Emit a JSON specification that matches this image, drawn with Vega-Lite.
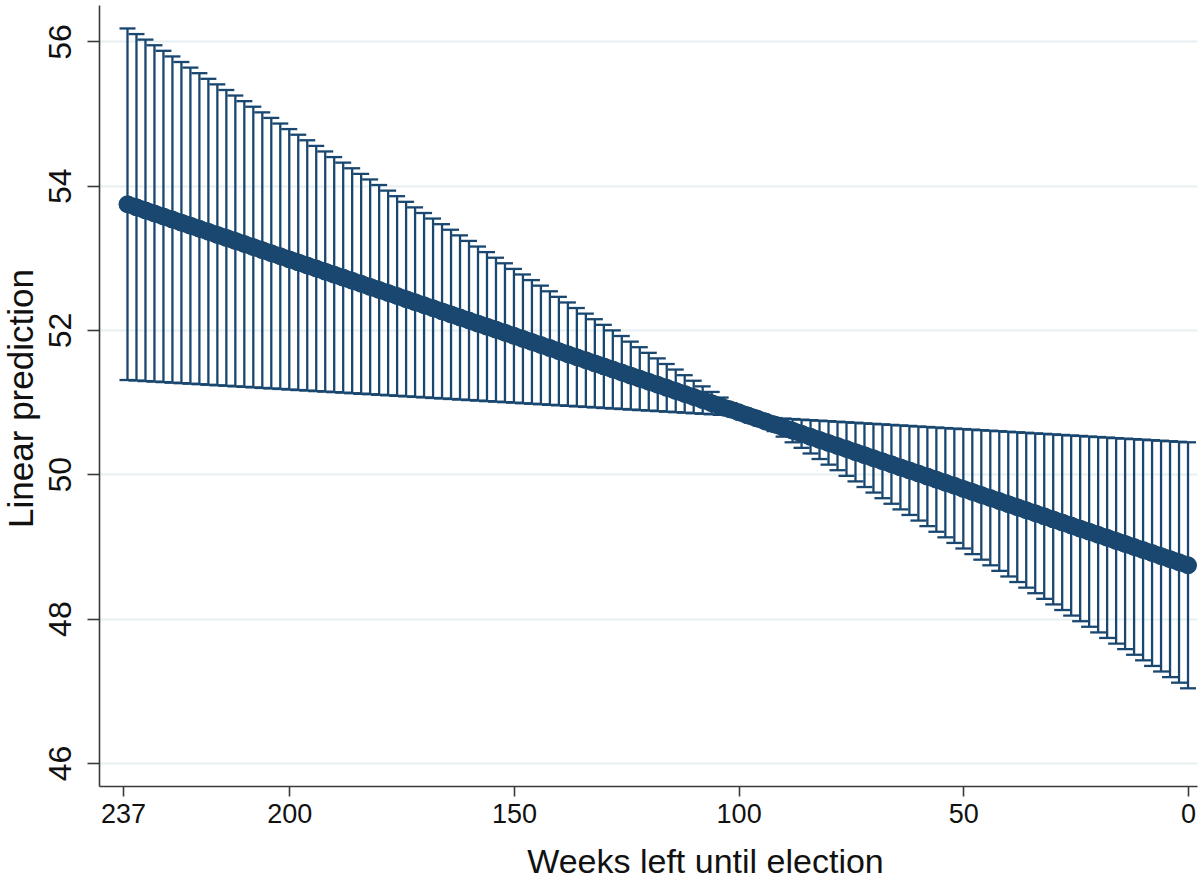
{
  "$schema": "https://vega.github.io/schema/vega-lite/v6.json",
  "width": 1098,
  "height": 781,
  "autosize": {"type": "none"},
  "padding": {"left": 99, "top": 5, "right": 6, "bottom": 96},
  "background": "white",
  "config": {
    "view": {"stroke": null},
    "font": "Liberation Sans",
    "axisX": {
      "grid": false,
      "domainColor": "#3a3a3a",
      "domainWidth": 1.6,
      "tickColor": "#3a3a3a",
      "tickWidth": 1.6,
      "tickSize": 10,
      "labelFontSize": 27,
      "labelColor": "#111111",
      "labelPadding": 5,
      "labelBaseline": "top",
      "labelFlush": false,
      "labelOverlap": false,
      "titleFontSize": 34,
      "titleFontWeight": "normal",
      "titleColor": "#111111",
      "titleX": 606,
      "titleY": 86,
      "titleAlign": "center",
      "titleBaseline": "alphabetic"
    },
    "axisY": {
      "grid": true,
      "gridColor": "#e6eff2",
      "gridWidth": 2,
      "domainColor": "#3a3a3a",
      "domainWidth": 1.6,
      "tickColor": "#3a3a3a",
      "tickWidth": 1.6,
      "tickSize": 12,
      "labelFontSize": 32,
      "labelColor": "#111111",
      "labelAngle": 270,
      "labelAlign": "center",
      "labelBaseline": "alphabetic",
      "labelPadding": 17,
      "labelOverlap": false,
      "labelFlush": false,
      "titleFontSize": 35,
      "titleFontWeight": "normal",
      "titleColor": "#111111",
      "titleAngle": 270,
      "titleAlign": "center",
      "titleBaseline": "alphabetic",
      "titleX": -67,
      "titleY": 393
    }
  },
  "data": {
    "values": [
      {"w": 0, "p": 48.739, "lo": 47.034, "hi": 50.444},
      {"w": 2, "p": 48.781, "lo": 47.112, "hi": 50.451},
      {"w": 4, "p": 48.824, "lo": 47.189, "hi": 50.459},
      {"w": 6, "p": 48.866, "lo": 47.267, "hi": 50.466},
      {"w": 8, "p": 48.909, "lo": 47.344, "hi": 50.473},
      {"w": 10, "p": 48.951, "lo": 47.422, "hi": 50.481},
      {"w": 12, "p": 48.993, "lo": 47.499, "hi": 50.488},
      {"w": 14, "p": 49.036, "lo": 47.577, "hi": 50.495},
      {"w": 16, "p": 49.078, "lo": 47.654, "hi": 50.503},
      {"w": 18, "p": 49.121, "lo": 47.732, "hi": 50.510},
      {"w": 20, "p": 49.163, "lo": 47.809, "hi": 50.517},
      {"w": 22, "p": 49.206, "lo": 47.887, "hi": 50.524},
      {"w": 24, "p": 49.248, "lo": 47.964, "hi": 50.532},
      {"w": 26, "p": 49.290, "lo": 48.042, "hi": 50.539},
      {"w": 28, "p": 49.333, "lo": 48.119, "hi": 50.546},
      {"w": 30, "p": 49.375, "lo": 48.197, "hi": 50.554},
      {"w": 32, "p": 49.418, "lo": 48.274, "hi": 50.561},
      {"w": 34, "p": 49.460, "lo": 48.352, "hi": 50.568},
      {"w": 36, "p": 49.502, "lo": 48.429, "hi": 50.576},
      {"w": 38, "p": 49.545, "lo": 48.507, "hi": 50.583},
      {"w": 40, "p": 49.587, "lo": 48.584, "hi": 50.590},
      {"w": 42, "p": 49.630, "lo": 48.662, "hi": 50.598},
      {"w": 44, "p": 49.672, "lo": 48.739, "hi": 50.605},
      {"w": 46, "p": 49.714, "lo": 48.817, "hi": 50.612},
      {"w": 48, "p": 49.757, "lo": 48.894, "hi": 50.620},
      {"w": 50, "p": 49.799, "lo": 48.972, "hi": 50.627},
      {"w": 52, "p": 49.842, "lo": 49.049, "hi": 50.634},
      {"w": 54, "p": 49.884, "lo": 49.127, "hi": 50.641},
      {"w": 56, "p": 49.927, "lo": 49.204, "hi": 50.649},
      {"w": 58, "p": 49.969, "lo": 49.282, "hi": 50.656},
      {"w": 60, "p": 50.011, "lo": 49.359, "hi": 50.663},
      {"w": 62, "p": 50.054, "lo": 49.437, "hi": 50.671},
      {"w": 64, "p": 50.096, "lo": 49.514, "hi": 50.678},
      {"w": 66, "p": 50.139, "lo": 49.592, "hi": 50.685},
      {"w": 68, "p": 50.181, "lo": 49.669, "hi": 50.693},
      {"w": 70, "p": 50.223, "lo": 49.747, "hi": 50.700},
      {"w": 72, "p": 50.266, "lo": 49.824, "hi": 50.707},
      {"w": 74, "p": 50.308, "lo": 49.902, "hi": 50.715},
      {"w": 76, "p": 50.351, "lo": 49.979, "hi": 50.722},
      {"w": 78, "p": 50.393, "lo": 50.057, "hi": 50.729},
      {"w": 80, "p": 50.435, "lo": 50.134, "hi": 50.737},
      {"w": 82, "p": 50.478, "lo": 50.212, "hi": 50.744},
      {"w": 84, "p": 50.520, "lo": 50.289, "hi": 50.751},
      {"w": 86, "p": 50.563, "lo": 50.367, "hi": 50.758},
      {"w": 88, "p": 50.605, "lo": 50.444, "hi": 50.766},
      {"w": 90, "p": 50.647, "lo": 50.522, "hi": 50.773},
      {"w": 92, "p": 50.690, "lo": 50.599, "hi": 50.780},
      {"w": 94, "p": 50.732, "lo": 50.677, "hi": 50.788},
      {"w": 96, "p": 50.775, "lo": 50.754, "hi": 50.795},
      {"w": 98, "p": 50.817, "lo": 50.802, "hi": 50.832},
      {"w": 100, "p": 50.860, "lo": 50.810, "hi": 50.909},
      {"w": 102, "p": 50.902, "lo": 50.817, "hi": 50.987},
      {"w": 104, "p": 50.944, "lo": 50.824, "hi": 51.064},
      {"w": 106, "p": 50.987, "lo": 50.832, "hi": 51.142},
      {"w": 108, "p": 51.029, "lo": 50.839, "hi": 51.219},
      {"w": 110, "p": 51.072, "lo": 50.846, "hi": 51.297},
      {"w": 112, "p": 51.114, "lo": 50.854, "hi": 51.374},
      {"w": 114, "p": 51.156, "lo": 50.861, "hi": 51.452},
      {"w": 116, "p": 51.199, "lo": 50.868, "hi": 51.529},
      {"w": 118, "p": 51.241, "lo": 50.876, "hi": 51.607},
      {"w": 120, "p": 51.284, "lo": 50.883, "hi": 51.684},
      {"w": 122, "p": 51.326, "lo": 50.890, "hi": 51.762},
      {"w": 124, "p": 51.368, "lo": 50.897, "hi": 51.839},
      {"w": 126, "p": 51.411, "lo": 50.905, "hi": 51.917},
      {"w": 128, "p": 51.453, "lo": 50.912, "hi": 51.995},
      {"w": 130, "p": 51.496, "lo": 50.919, "hi": 52.072},
      {"w": 132, "p": 51.538, "lo": 50.927, "hi": 52.150},
      {"w": 134, "p": 51.581, "lo": 50.934, "hi": 52.227},
      {"w": 136, "p": 51.623, "lo": 50.941, "hi": 52.305},
      {"w": 138, "p": 51.665, "lo": 50.949, "hi": 52.382},
      {"w": 140, "p": 51.708, "lo": 50.956, "hi": 52.460},
      {"w": 142, "p": 51.750, "lo": 50.963, "hi": 52.537},
      {"w": 144, "p": 51.793, "lo": 50.971, "hi": 52.615},
      {"w": 146, "p": 51.835, "lo": 50.978, "hi": 52.692},
      {"w": 148, "p": 51.877, "lo": 50.985, "hi": 52.770},
      {"w": 150, "p": 51.920, "lo": 50.993, "hi": 52.847},
      {"w": 152, "p": 51.962, "lo": 51.000, "hi": 52.925},
      {"w": 154, "p": 52.005, "lo": 51.007, "hi": 53.002},
      {"w": 156, "p": 52.047, "lo": 51.014, "hi": 53.080},
      {"w": 158, "p": 52.089, "lo": 51.022, "hi": 53.157},
      {"w": 160, "p": 52.132, "lo": 51.029, "hi": 53.235},
      {"w": 162, "p": 52.174, "lo": 51.036, "hi": 53.312},
      {"w": 164, "p": 52.217, "lo": 51.044, "hi": 53.390},
      {"w": 166, "p": 52.259, "lo": 51.051, "hi": 53.467},
      {"w": 168, "p": 52.302, "lo": 51.058, "hi": 53.545},
      {"w": 170, "p": 52.344, "lo": 51.066, "hi": 53.622},
      {"w": 172, "p": 52.386, "lo": 51.073, "hi": 53.700},
      {"w": 174, "p": 52.429, "lo": 51.080, "hi": 53.777},
      {"w": 176, "p": 52.471, "lo": 51.088, "hi": 53.855},
      {"w": 178, "p": 52.514, "lo": 51.095, "hi": 53.932},
      {"w": 180, "p": 52.556, "lo": 51.102, "hi": 54.010},
      {"w": 182, "p": 52.598, "lo": 51.110, "hi": 54.087},
      {"w": 184, "p": 52.641, "lo": 51.117, "hi": 54.165},
      {"w": 186, "p": 52.683, "lo": 51.124, "hi": 54.242},
      {"w": 188, "p": 52.726, "lo": 51.132, "hi": 54.320},
      {"w": 190, "p": 52.768, "lo": 51.139, "hi": 54.397},
      {"w": 192, "p": 52.810, "lo": 51.146, "hi": 54.475},
      {"w": 194, "p": 52.853, "lo": 51.153, "hi": 54.552},
      {"w": 196, "p": 52.895, "lo": 51.161, "hi": 54.630},
      {"w": 198, "p": 52.938, "lo": 51.168, "hi": 54.707},
      {"w": 200, "p": 52.980, "lo": 51.175, "hi": 54.785},
      {"w": 202, "p": 53.023, "lo": 51.183, "hi": 54.862},
      {"w": 204, "p": 53.065, "lo": 51.190, "hi": 54.940},
      {"w": 206, "p": 53.107, "lo": 51.197, "hi": 55.017},
      {"w": 208, "p": 53.150, "lo": 51.205, "hi": 55.095},
      {"w": 210, "p": 53.192, "lo": 51.212, "hi": 55.172},
      {"w": 212, "p": 53.235, "lo": 51.219, "hi": 55.250},
      {"w": 214, "p": 53.277, "lo": 51.227, "hi": 55.327},
      {"w": 216, "p": 53.319, "lo": 51.234, "hi": 55.405},
      {"w": 218, "p": 53.362, "lo": 51.241, "hi": 55.482},
      {"w": 220, "p": 53.404, "lo": 51.249, "hi": 55.560},
      {"w": 222, "p": 53.447, "lo": 51.256, "hi": 55.637},
      {"w": 224, "p": 53.489, "lo": 51.263, "hi": 55.715},
      {"w": 226, "p": 53.531, "lo": 51.270, "hi": 55.792},
      {"w": 228, "p": 53.574, "lo": 51.278, "hi": 55.870},
      {"w": 230, "p": 53.616, "lo": 51.285, "hi": 55.947},
      {"w": 232, "p": 53.659, "lo": 51.292, "hi": 56.025},
      {"w": 234, "p": 53.701, "lo": 51.300, "hi": 56.102},
      {"w": 236, "p": 53.743, "lo": 51.307, "hi": 56.180}
    ]
  },
  "encoding": {
    "x": {
      "field": "w",
      "type": "quantitative",
      "title": "Weeks left until election",
      "scale": {"domain": [-2, 242.34], "reverse": true, "nice": false, "zero": false},
      "axis": {"values": [237, 200, 150, 100, 50, 0]}
    }
  },
  "layer": [
    {
      "mark": {"type": "rule", "color": "#1a476f", "strokeWidth": 2.3},
      "encoding": {
        "y": {"field": "lo", "type": "quantitative", "title": "Linear prediction",
              "scale": {"domain": [45.68, 56.505], "nice": false, "zero": false},
              "axis": {"values": [46, 48, 50, 52, 54, 56]}},
        "y2": {"field": "hi"}
      }
    },
    {
      "mark": {"type": "tick", "orient": "horizontal", "color": "#1a476f", "size": 16, "thickness": 2.3, "opacity": 1},
      "encoding": {
        "y": {"field": "lo", "type": "quantitative", "title": "Linear prediction", "axis": {"values": [46, 48, 50, 52, 54, 56]}}
      }
    },
    {
      "mark": {"type": "tick", "orient": "horizontal", "color": "#1a476f", "size": 16, "thickness": 2.3, "opacity": 1},
      "encoding": {
        "y": {"field": "hi", "type": "quantitative", "title": "Linear prediction", "axis": {"values": [46, 48, 50, 52, 54, 56]}}
      }
    },
    {
      "mark": {"type": "line", "color": "#1a476f", "strokeWidth": 17, "strokeCap": "round"},
      "encoding": {
        "y": {"field": "p", "type": "quantitative", "title": "Linear prediction", "axis": {"values": [46, 48, 50, 52, 54, 56]}}
      }
    },
    {
      "mark": {"type": "point", "filled": true, "color": "#1a476f", "size": 320, "opacity": 1},
      "encoding": {
        "y": {"field": "p", "type": "quantitative", "title": "Linear prediction", "axis": {"values": [46, 48, 50, 52, 54, 56]}}
      }
    }
  ]
}
